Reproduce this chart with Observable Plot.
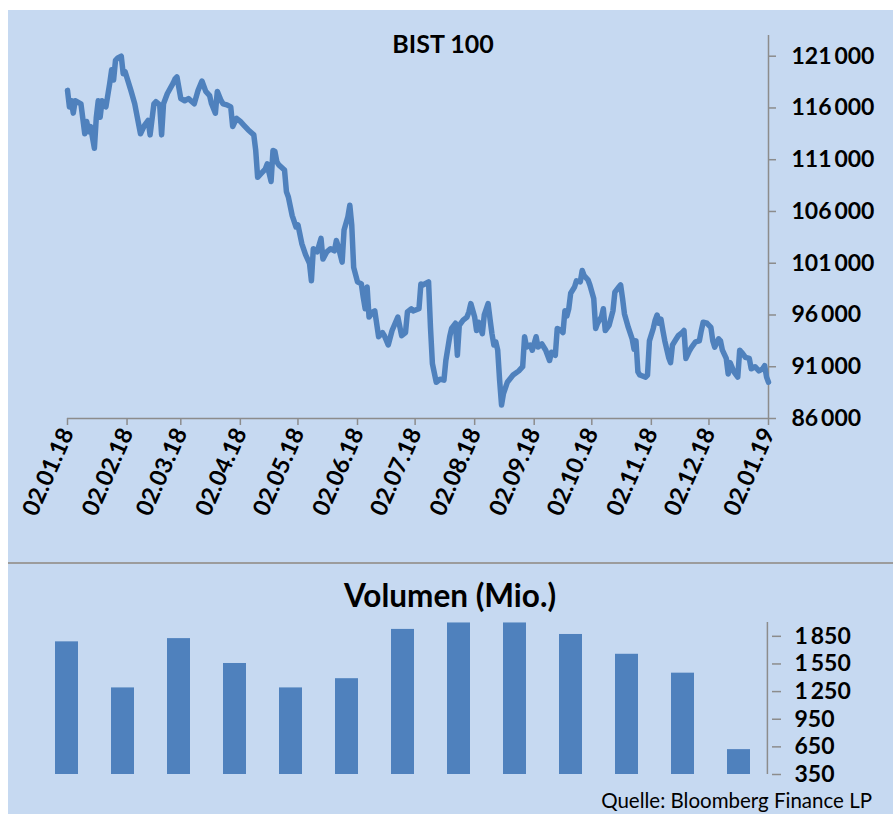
<!DOCTYPE html>
<html>
<head>
<meta charset="utf-8">
<script src="https://cdn.jsdelivr.net/npm/d3@7"></script>
<script src="https://cdn.jsdelivr.net/npm/@observablehq/plot@0.6"></script>
<style>
  body { margin: 0; background: #ffffff; font-family: Lato, "Open Sans", sans-serif; }
  #wrap { position: relative; width: 893px; height: 814px; overflow: hidden; }
  .panel { position: absolute; left: 8px; width: 885px; background: #c6d9f1; }
  .lbl { position: absolute; white-space: nowrap; line-height: 1; color: #000; font-family: Lato, sans-serif; }
</style>
</head>
<body>
<div id="wrap">
  <div id="topPanel" class="panel" style="top:10px;height:552px"></div>
  <div style="position:absolute;left:8px;top:562px;width:885px;height:2px;background:#9c9c9c"></div>
  <div id="botPanel" class="panel" style="top:564px;height:250px"></div>
  <div class="lbl" style="left:443px;top:31px;transform:translateX(-50%);font-size:25px;font-weight:700">BIST 100</div>
  <div class="lbl" style="left:450px;top:580px;transform:translateX(-50%);font-size:31.5px;font-weight:700">Volumen (Mio.)</div>
  <div class="lbl" style="right:21px;top:790px;font-size:20.5px;font-weight:400">Quelle: Bloomberg Finance LP</div>
</div>
<script>
// BIST 100 daily closes
const dates = [
"2018-01-02","2018-01-03","2018-01-04","2018-01-05","2018-01-06","2018-01-09","2018-01-11","2018-01-12","2018-01-13","2018-01-14",
"2018-01-16","2018-01-17","2018-01-18","2018-01-19","2018-01-20","2018-01-22","2018-01-24","2018-01-25","2018-01-26","2018-01-27",
"2018-01-28","2018-01-30","2018-01-31","2018-02-01","2018-02-04","2018-02-06","2018-02-09","2018-02-11","2018-02-13","2018-02-14",
"2018-02-16","2018-02-17","2018-02-19","2018-02-20","2018-02-21","2018-02-23","2018-02-26","2018-02-27","2018-02-28","2018-03-02",
"2018-03-04","2018-03-06","2018-03-09","2018-03-11","2018-03-13","2018-03-15","2018-03-17","2018-03-18","2018-03-20","2018-03-21",
"2018-03-23","2018-03-24","2018-03-26","2018-03-28","2018-03-29","2018-03-31","2018-04-02","2018-04-04","2018-04-06","2018-04-09",
"2018-04-10","2018-04-11","2018-04-13","2018-04-15","2018-04-16","2018-04-17","2018-04-18","2018-04-19","2018-04-20","2018-04-21",
"2018-04-22","2018-04-25","2018-04-26","2018-04-27","2018-04-29","2018-05-01","2018-05-02","2018-05-04","2018-05-06","2018-05-08",
"2018-05-09","2018-05-10","2018-05-12","2018-05-14","2018-05-15","2018-05-17","2018-05-19","2018-05-21","2018-05-22","2018-05-23",
"2018-05-25","2018-05-26","2018-05-28","2018-05-29","2018-05-30","2018-05-31","2018-06-02","2018-06-04","2018-06-05","2018-06-06",
"2018-06-07","2018-06-08","2018-06-10","2018-06-11","2018-06-13","2018-06-15","2018-06-16","2018-06-18","2018-06-20","2018-06-23",
"2018-06-25","2018-06-27","2018-06-28","2018-06-30","2018-07-01","2018-07-04","2018-07-05","2018-07-06","2018-07-08","2018-07-09",
"2018-07-10","2018-07-11","2018-07-13","2018-07-15","2018-07-17","2018-07-18","2018-07-20","2018-07-21","2018-07-23","2018-07-24",
"2018-07-25","2018-07-27","2018-07-29","2018-07-30","2018-07-31","2018-08-02","2018-08-03","2018-08-04","2018-08-06","2018-08-07",
"2018-08-09","2018-08-10","2018-08-11","2018-08-12","2018-08-13","2018-08-14","2018-08-15","2018-08-16","2018-08-17","2018-08-19",
"2018-08-22","2018-08-25","2018-08-27","2018-08-28","2018-08-29","2018-08-31","2018-09-01","2018-09-03","2018-09-04","2018-09-06",
"2018-09-08","2018-09-10","2018-09-11","2018-09-13","2018-09-14","2018-09-16","2018-09-17","2018-09-18","2018-09-19","2018-09-20",
"2018-09-21","2018-09-23","2018-09-24","2018-09-26","2018-09-27","2018-09-28","2018-09-30","2018-10-01","2018-10-03","2018-10-04",
"2018-10-05","2018-10-07","2018-10-08","2018-10-09","2018-10-11","2018-10-13","2018-10-14","2018-10-16","2018-10-17","2018-10-18",
"2018-10-19","2018-10-21","2018-10-23","2018-10-24","2018-10-25","2018-10-26","2018-10-27","2018-10-30","2018-10-31","2018-11-01",
"2018-11-03","2018-11-04","2018-11-05","2018-11-06","2018-11-07","2018-11-08","2018-11-09","2018-11-11","2018-11-12","2018-11-13",
"2018-11-15","2018-11-16","2018-11-18","2018-11-19","2018-11-20","2018-11-22","2018-11-23","2018-11-25","2018-11-27","2018-11-28",
"2018-11-29","2018-12-01","2018-12-03","2018-12-04","2018-12-05","2018-12-07","2018-12-08","2018-12-09","2018-12-11","2018-12-12",
"2018-12-13","2018-12-15","2018-12-17","2018-12-18","2018-12-19","2018-12-21","2018-12-23","2018-12-24","2018-12-26","2018-12-28",
"2018-12-30","2018-12-31","2019-01-01","2019-01-02"
];
const values = [
117700,116100,116700,115500,116700,116400,113500,114700,113700,114200,
112100,115100,116700,115100,116700,116100,118400,119700,118700,120600,
120800,121000,119300,119500,117700,116400,113500,114300,114800,113400,
116400,116600,116300,113400,116400,117400,118400,118800,119000,116900,
116700,116900,116400,117700,118600,117600,117200,116400,115500,117600,
116700,116400,116300,116100,114200,115000,114700,114300,113900,113400,
111900,109300,109700,110100,110600,109700,108900,111900,111800,110800,
110500,110000,107900,107400,105600,104500,104700,102900,101800,101000,
99300,102400,102100,103400,101400,102100,102400,102200,103200,102600,
101100,104200,105500,106600,104700,100600,99200,99000,97700,96600,
98700,95800,96300,96400,93900,94300,94000,93100,94500,95800,
94000,94300,96300,96600,96400,96600,99000,98900,99100,99200,
94800,91300,89500,89800,89700,91600,93900,94700,95200,92100,
95000,95500,95800,96300,97100,95800,94500,95300,94200,96000,
97100,95600,94200,93100,93400,92600,89700,87300,88400,89500,
90200,90600,91000,93900,92900,93100,92600,93900,92900,93200,
92600,91600,92400,92100,94700,94500,94300,96400,95900,96600,
98100,98700,99300,99200,100300,99800,99400,98900,97600,94700,
95200,95800,96600,94500,95000,96400,98200,98700,98900,97600,
96100,94800,93700,92700,93500,90500,90200,90000,90200,93500,
94700,95500,96000,95200,95600,94500,93500,91900,91400,93100,
93700,94000,94300,94500,91800,92600,92900,93400,93500,94500,
95300,95200,94800,93500,92900,93700,93500,92600,91800,90300,
91400,90500,90000,92600,92400,91900,91800,90800,91000,90600,
90800,91100,90000,89500
];
const priceTicks = [86000, 91000, 96000, 101000, 106000, 111000, 116000, 121000];
const dateTicks = ["2018-01-02","2018-02-02","2018-03-02","2018-04-02","2018-05-02","2018-06-02","2018-07-02",
                   "2018-08-02","2018-09-02","2018-10-02","2018-11-02","2018-12-02","2019-01-02"];

// Monthly volume (Mio.)
const months = ["Jan 18","Feb 18","Mär 18","Apr 18","Mai 18","Jun 18","Jul 18","Aug 18","Sep 18","Okt 18","Nov 18","Dez 18","Jan 19"];
const volumes = [1790, 1290, 1825, 1555, 1290, 1390, 1925, 1995, 1995, 1870, 1655, 1450, 620];
const volTicks = [350, 650, 950, 1250, 1550, 1850];

const BLUE = "#4f81bd";
const AXIS = "#8c8c8c";
const fmt = v => d3.format(",")(v).replace(/,/g, "\u2009");

const series = dates.map((d, i) => ({date: new Date(d), value: values[i]}));
const tickDates = dateTicks.map(d => new Date(d));
const xStart = new Date(dateTicks[0]), xEnd = new Date(dateTicks[dateTicks.length - 1]);

const priceChart = Plot.plot({
  width: 885, height: 552,
  marginLeft: 59, marginRight: 125, marginTop: 25, marginBottom: 144,
  style: {background: "transparent", fontFamily: "Lato, sans-serif", overflow: "visible"},
  x: {type: "utc", domain: [xStart, xEnd]},
  y: {domain: [86000, 123000]},
  marks: [
    Plot.ruleY([86000], {stroke: AXIS, strokeWidth: 1.5}),
    Plot.ruleX([xEnd], {stroke: AXIS, strokeWidth: 1.5}),
    Plot.axisY(priceTicks, {anchor: "right", tickSize: 7, tickPadding: 16, stroke: AXIS, strokeWidth: 1.5,
      tickFormat: fmt, fontSize: 23, fontWeight: 700, fill: "#000", label: null}),
    Plot.axisX(tickDates, {anchor: "bottom", tickSize: 7, stroke: AXIS, strokeWidth: 1.5, fill: "none", label: null}),
    Plot.axisX(tickDates, {anchor: "bottom", tickSize: 0, tickPadding: 11, tickRotate: -66, textAnchor: "end",
      tickFormat: d3.utcFormat("%d.%m.%y"), fontSize: 23.5, fontWeight: 700, fill: "#000", label: null}),
    Plot.lineY(series, {x: "date", y: "value", stroke: BLUE, strokeWidth: 5.5, strokeLinejoin: "round", strokeLinecap: "round"})
  ]
});
document.getElementById("topPanel").appendChild(priceChart);

const vol = months.map((m, i) => ({month: m, volume: volumes[i]}));
const volChart = Plot.plot({
  width: 885, height: 250,
  marginLeft: 25, marginRight: 122, marginTop: 58, marginBottom: 40,
  style: {background: "transparent", fontFamily: "Lato, sans-serif", overflow: "visible"},
  x: {domain: months, paddingInner: 0.595, paddingOuter: 0.2975, axis: null},
  y: {domain: [350, 2000]},
  marks: [
    Plot.barY(vol, {x: "month", y1: 350, y2: "volume", fill: BLUE}),
    Plot.ruleX([months[months.length - 1]], {dx: 28.4, stroke: AXIS, strokeWidth: 1.5}),
    Plot.axisY(volTicks, {anchor: "right", tickSize: 9, tickPadding: 14, stroke: AXIS, strokeWidth: 1.5,
      tickFormat: fmt, fontSize: 23, fontWeight: 700, fill: "#000", label: null})
  ]
});
document.getElementById("botPanel").appendChild(volChart);
</script>
</body>
</html>
